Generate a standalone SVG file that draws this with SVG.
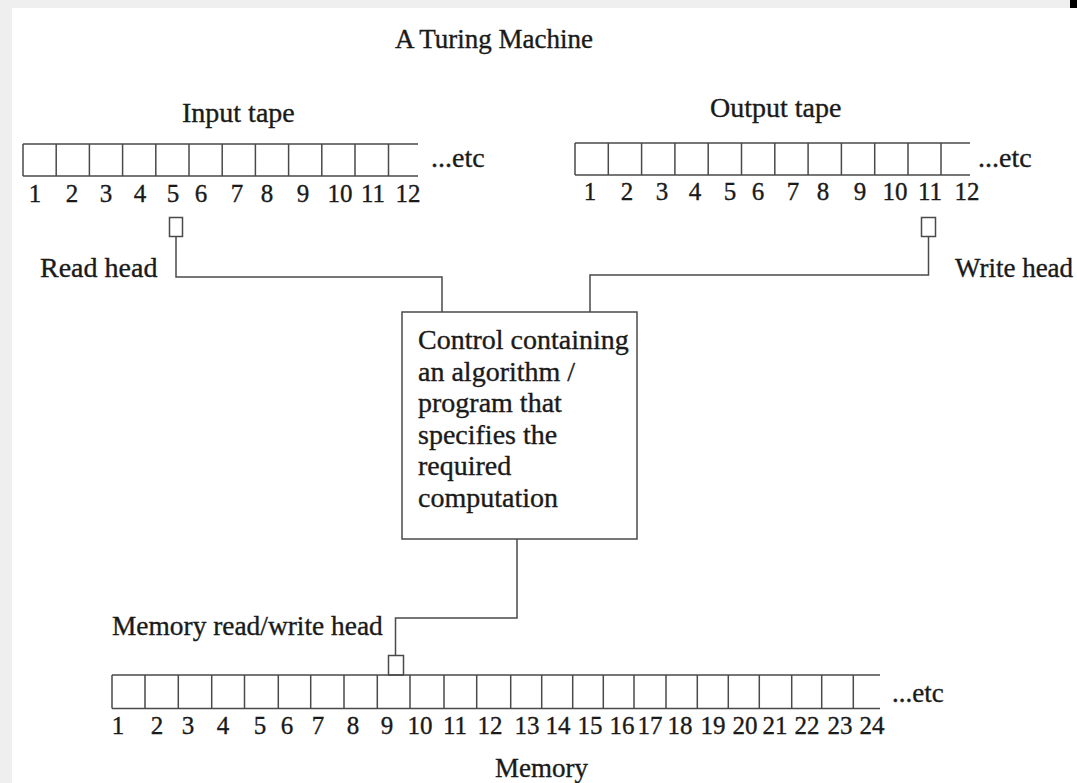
<svg xmlns="http://www.w3.org/2000/svg" width="1077" height="783" viewBox="0 0 1077 783">
<defs>
<style>
text { font-family: "Liberation Serif", "Times New Roman", serif; fill: #1a1a1a; stroke: #1a1a1a; stroke-width: 0.35; }
.lbl { font-size: 28px; }
.num { font-size: 25px; text-anchor: middle; }
.ln { stroke: #4a4a4a; stroke-width: 1.5; fill: none; }
.cell { stroke: #4a4a4a; stroke-width: 1.5; fill: #ffffff; }
</style>
</defs>
<rect x="0" y="0" width="1077" height="783" fill="#ffffff"/>
<rect x="0" y="0" width="1077" height="8" fill="#efefef"/>
<rect x="0" y="0" width="12" height="783" fill="#efefef"/>
<rect x="1070" y="0" width="7" height="8" fill="#000000"/>

<text class="lbl" x="395" y="48" style="font-size:27px">A Turing Machine</text>

<g id="input-tape">
<text class="lbl" x="182" y="122">Input tape</text>
<path class="ln" d="M23 144 H418 M23 176 H418 M23 144 V176 M56.2 144 V176 M89.4 144 V176 M122.6 144 V176 M155.8 144 V176 M189 144 V176 M222.2 144 V176 M255.4 144 V176 M288.6 144 V176 M321.8 144 V176 M355 144 V176 M388.5 144 V176"/>
<text class="lbl" x="431" y="167">...etc</text>
<g class="nums">
<text class="num" x="35" y="202">1</text>
<text class="num" x="72" y="202">2</text>
<text class="num" x="106" y="202">3</text>
<text class="num" x="140" y="202">4</text>
<text class="num" x="173" y="202">5</text>
<text class="num" x="201" y="202">6</text>
<text class="num" x="237" y="202">7</text>
<text class="num" x="267" y="202">8</text>
<text class="num" x="303" y="202">9</text>
<text class="num" x="340" y="202">10</text>
<text class="num" x="373" y="202">11</text>
<text class="num" x="408" y="202">12</text>
</g>
</g>

<g id="output-tape">
<text class="lbl" x="710" y="117">Output tape</text>
<path class="ln" d="M575 143 H970 M575 175 H970 M575 143 V175 M608.3 143 V175 M641.6 143 V175 M674.9 143 V175 M708.2 143 V175 M741.5 143 V175 M774.8 143 V175 M808.1 143 V175 M841.4 143 V175 M874.7 143 V175 M908 143 V175 M941 143 V175"/>
<text class="lbl" x="978" y="167">...etc</text>
<g class="nums">
<text class="num" x="590" y="200">1</text>
<text class="num" x="627" y="200">2</text>
<text class="num" x="662" y="200">3</text>
<text class="num" x="695" y="200">4</text>
<text class="num" x="730" y="200">5</text>
<text class="num" x="758" y="200">6</text>
<text class="num" x="793" y="200">7</text>
<text class="num" x="823" y="200">8</text>
<text class="num" x="860" y="200">9</text>
<text class="num" x="895" y="200">10</text>
<text class="num" x="930" y="200">11</text>
<text class="num" x="967" y="200">12</text>
</g>
</g>

<g id="read-head">
<rect class="cell" x="169.5" y="217.5" width="13" height="19"/>
<text class="lbl" x="40" y="277">Read head</text>
</g>

<g id="write-head">
<rect class="cell" x="921.5" y="217.5" width="14" height="19"/>
<text class="lbl" x="955" y="277" style="font-size:27px">Write head</text>
</g>

<g id="control">
<rect class="cell" x="402" y="312" width="235" height="227"/>
<text class="lbl" x="418" y="349">Control containing</text>
<text class="lbl" x="418" y="380.5">an algorithm /</text>
<text class="lbl" x="418" y="412">program that</text>
<text class="lbl" x="418" y="443.5">specifies the</text>
<text class="lbl" x="418" y="475">required</text>
<text class="lbl" x="418" y="506.5">computation</text>
</g>

<g id="memory-head">
<rect class="cell" x="388.5" y="655.5" width="15" height="19.5"/>
<text class="lbl" x="112" y="635" style="font-size:27.4px">Memory read/write head</text>
</g>

<g id="memory-tape">
<path class="ln" d="M112 675 H880 M112 708.5 H880 M112 675 V708.5 M145 675 V708.5 M178.3 675 V708.5 M211.7 675 V708.5 M244.5 675 V708.5 M278.3 675 V708.5 M310.7 675 V708.5 M344 675 V708.5 M377.3 675 V708.5 M410 675 V708.5 M444 675 V708.5 M476.7 675 V708.5 M510.7 675 V708.5 M541.7 675 V708.5 M572.7 675 V708.5 M603.3 675 V708.5 M634 675 V708.5 M666 675 V708.5 M697.3 675 V708.5 M728.3 675 V708.5 M759.3 675 V708.5 M791.7 675 V708.5 M821.7 675 V708.5 M853.3 675 V708.5"/>
<text class="lbl" x="892" y="702" style="font-size:27px">...etc</text>
<g class="nums">
<text class="num" x="118" y="734">1</text>
<text class="num" x="157" y="734">2</text>
<text class="num" x="188" y="734">3</text>
<text class="num" x="223" y="734">4</text>
<text class="num" x="260" y="734">5</text>
<text class="num" x="287" y="734">6</text>
<text class="num" x="318" y="734">7</text>
<text class="num" x="353" y="734">8</text>
<text class="num" x="387" y="734">9</text>
<text class="num" x="420" y="734">10</text>
<text class="num" x="455" y="734">11</text>
<text class="num" x="490" y="734">12</text>
<text class="num" x="527" y="734">13</text>
<text class="num" x="558" y="734">14</text>
<text class="num" x="590" y="734">15</text>
<text class="num" x="622" y="734">16</text>
<text class="num" x="650" y="734">17</text>
<text class="num" x="680" y="734">18</text>
<text class="num" x="713" y="734">19</text>
<text class="num" x="745" y="734">20</text>
<text class="num" x="775" y="734">21</text>
<text class="num" x="807" y="734">22</text>
<text class="num" x="840" y="734">23</text>
<text class="num" x="872" y="734">24</text>
</g>
<text class="lbl" x="495" y="777" style="font-size:27px">Memory</text>
</g>

<g id="connectors">
<path class="ln" d="M176 236.5 V277 H442 V312"/>
<path class="ln" d="M928.5 236.5 V275 H590 V312"/>
<path class="ln" d="M517 539 V618 H395.5 V655.5"/>
</g>
</svg>
